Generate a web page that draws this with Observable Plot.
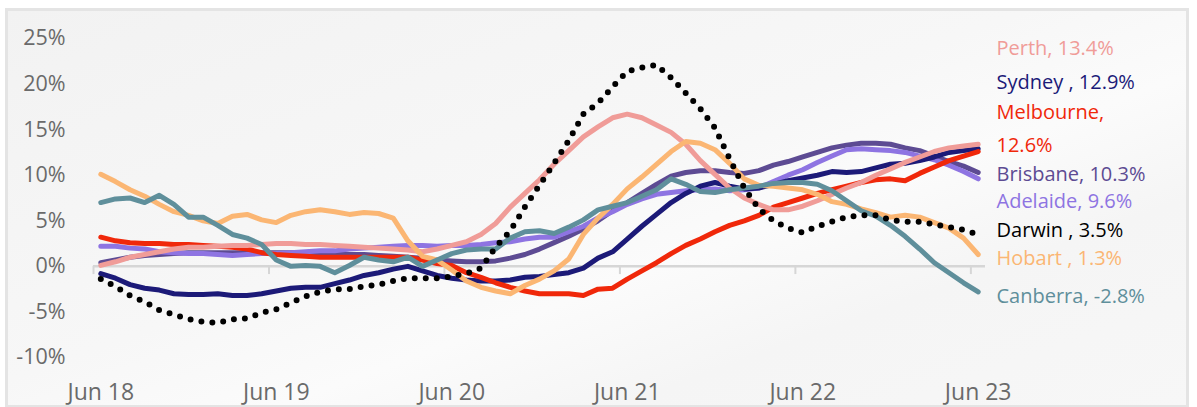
<!DOCTYPE html>
<html>
<head>
<meta charset="utf-8">
<script src="https://cdn.jsdelivr.net/npm/d3@7"></script>
<script src="https://cdn.jsdelivr.net/npm/@observablehq/plot@0.6"></script>
<style>
  html, body { margin: 0; padding: 0; background: #ffffff; }
  #wrap { position: relative; width: 1197px; height: 407px; overflow: hidden; }
  #frame { position: absolute; left: 5px; top: 8px; width: 1184px; height: 400px;
    border: 3px solid #e4e4e4; box-sizing: border-box;
    background: linear-gradient(160deg, #f2f2f2 0%, #f7f7f7 45%, #fbfbfb 60%, #f5f5f5 75%, #f7f7f7 100%); }
  #chart { position: absolute; left: 0; top: 0; }
  svg { font-family: "Open Sans", sans-serif; }
</style>
</head>
<body>
<div id="wrap"><div id="frame"></div><div id="chart"></div></div>
<script>
// Month index 0 = Jun 2018 ... 60 = Jun 2023
const xTickLabels = ["Jun 18", "Jun 19", "Jun 20", "Jun 21", "Jun 22", "Jun 23"];
const yTicks = [-10, -5, 0, 5, 10, 15, 20, 25];

const seriesNames = ["Brisbane", "Adelaide", "Sydney", "Melbourne", "Perth", "Hobart", "Canberra", "Darwin"];
const seriesColors = ["#5d4b93", "#8e74e2", "#1c1a78", "#f0280a", "#f09c98", "#fbb673", "#5f8f9b", "#000000"];

const brisbane = [0.4,0.7,1.0,1.2,1.3,1.4,1.5,1.5,1.5,1.5,1.5,1.5,1.5,1.5,1.5,1.4,1.4,1.3,1.3,1.2,1.1,1.0,0.9,0.7,0.6,0.5,0.5,0.6,0.9,1.3,1.9,2.6,3.3,4.1,5.0,6.1,7.0,8.0,9.0,9.9,10.3,10.5,10.5,10.3,10.2,10.5,11.1,11.5,12.0,12.5,13.0,13.3,13.5,13.5,13.4,13.0,12.7,12.1,11.5,11.0,10.3];
const adelaide = [2.2,2.2,2.0,1.9,1.6,1.5,1.4,1.4,1.3,1.2,1.3,1.4,1.4,1.5,1.6,1.7,1.7,1.9,2.0,2.1,2.2,2.3,2.3,2.2,2.3,2.3,2.4,2.6,2.7,3.0,3.2,3.2,3.8,4.4,5.3,6.0,6.8,7.4,7.9,8.1,8.3,8.4,8.5,8.3,8.4,8.6,9.3,10.0,10.6,11.4,12.1,12.8,12.9,12.8,12.7,12.5,12.1,11.7,11.1,10.4,9.6];
const sydney = [-0.8,-1.3,-2.0,-2.4,-2.6,-3.0,-3.1,-3.1,-3.0,-3.2,-3.2,-3.0,-2.7,-2.4,-2.3,-2.3,-1.9,-1.5,-1.0,-0.7,-0.3,0.0,-0.5,-1.0,-1.3,-1.5,-1.6,-1.6,-1.5,-1.2,-1.1,-0.9,-0.7,-0.2,0.9,1.6,3.0,4.4,5.7,7.0,8.0,8.8,9.2,8.8,8.5,8.6,9.0,9.4,9.7,10.0,10.4,10.3,10.4,10.8,11.2,11.3,11.6,12.0,12.5,12.7,12.9];
const melbourne = [3.2,2.8,2.6,2.5,2.5,2.4,2.4,2.3,2.2,2.1,1.9,1.5,1.3,1.2,1.1,1.0,1.0,1.0,1.0,1.0,1.0,1.0,0.7,0.3,0.1,-0.7,-1.2,-1.8,-2.3,-2.7,-3.0,-3.0,-3.0,-3.2,-2.5,-2.4,-1.4,-0.5,0.4,1.4,2.3,3.0,3.8,4.5,5.0,5.6,6.5,7.0,7.5,8.0,8.4,8.8,9.2,9.5,9.6,9.4,10.2,10.9,11.6,12.1,12.6];
const perth = [0.1,0.5,1.0,1.3,1.6,1.9,2.1,2.1,2.2,2.3,2.3,2.4,2.5,2.5,2.4,2.4,2.3,2.2,2.1,2.0,1.9,1.8,1.6,1.9,2.3,2.7,3.5,4.7,6.5,8.0,9.5,11.2,12.7,14.2,15.3,16.3,16.7,16.3,15.5,14.7,13.4,11.6,10.1,8.6,7.5,6.8,6.2,6.2,6.6,7.2,7.9,8.6,9.2,10.0,10.7,11.4,12.0,12.6,13.0,13.2,13.4];
const hobart = [10.1,9.3,8.4,7.7,6.8,6.0,5.6,5.0,4.7,5.5,5.7,5.1,4.8,5.6,6.0,6.2,6.0,5.7,5.9,5.8,5.3,2.8,1.1,0.7,-0.4,-1.6,-2.3,-2.7,-3.0,-2.1,-1.4,-0.5,0.8,3.5,5.3,6.8,8.5,9.8,11.2,12.6,13.7,13.5,12.8,11.3,9.6,8.9,8.8,8.6,8.4,7.9,7.1,6.8,6.3,5.9,5.4,5.6,5.4,4.8,4.2,3.1,1.3];
const canberra = [7.0,7.4,7.5,7.0,7.8,6.8,5.4,5.4,4.5,3.5,3.1,2.4,0.7,0.0,0.1,0.0,-0.7,0.1,1.0,0.7,0.5,1.0,0.0,0.7,1.4,1.8,1.9,1.9,3.1,3.8,3.9,3.6,4.3,5.1,6.2,6.6,7.0,7.7,8.4,9.6,9.0,8.2,8.1,8.4,8.6,8.8,9.1,9.2,9.2,9.0,8.3,7.2,6.1,5.5,4.5,3.3,1.9,0.4,-0.7,-1.8,-2.8];
const darwin = [-1.4,-2.2,-3.2,-3.9,-4.8,-5.3,-5.8,-6.1,-6.2,-5.8,-5.7,-5.1,-4.7,-4.0,-3.3,-2.8,-2.5,-2.5,-2.2,-2.0,-1.6,-1.3,-1.3,-1.3,-1.1,-0.8,-0.2,2.1,3.9,6.5,8.9,11.3,13.8,16.7,17.9,19.7,21.4,21.8,22.1,20.7,19.0,17.3,15.2,11.8,8.6,6.3,5.0,4.2,3.7,4.4,4.9,5.4,5.6,5.6,5.1,4.9,4.9,4.6,4.3,4.0,3.5];

// End labels (text, colour, vertical position in % units)
const labelTexts = ["Perth, 13.4%", "Sydney , 12.9%", "Melbourne,", "12.6%", "Brisbane, 10.3%", "Adelaide, 9.6%", "Darwin , 3.5%", "Hobart , 1.3%", "Canberra, -2.8%"];
const labelColors = ["#f09c98", "#1c1a78", "#f0280a", "#f0280a", "#5d4b93", "#8e74e2", "#000000", "#fbb673", "#5f8f9b"];
const labelY = [23.9, 20.2, 16.9, 13.3, 10.1, 7.1, 3.9, 0.8, -3.3];

const valuesBySeries = [brisbane, adelaide, sydney, melbourne, perth, hobart, canberra, darwin];
const rows = [];
seriesNames.forEach((name, s) => {
  valuesBySeries[s].forEach((v, i) => rows.push({series: name, month: i, value: v}));
});
const solid = rows.filter(d => d.series !== "Darwin");
const dotted = rows.filter(d => d.series === "Darwin");
const labels = labelTexts.map((t, i) => ({text: t, color: labelColors[i], y: labelY[i]}));
const xTickPos = xTickLabels.map((_, k) => k * 12);
const boundaryTicks = xTickLabels.map((_, k) => k * 12 - 0.5);

const chart = Plot.plot({
  width: 1197,
  height: 407,
  marginLeft: 93,
  marginRight: 212,
  marginTop: 38,
  marginBottom: 50,
  style: {background: "transparent", fontFamily: "'Open Sans', sans-serif"},
  x: {domain: [-0.5, 60.5], axis: null},
  y: {domain: [-10, 25], axis: null},
  color: {domain: seriesNames, range: seriesColors},
  marks: [
    Plot.ruleY([0], {x1: -0.5, x2: 60.5, stroke: "#d6d6d6", strokeWidth: 2.5}),
    Plot.ruleX(boundaryTicks, {x: d => d, y1: 0, y2: -0.9, stroke: "#d6d6d6", strokeWidth: 2}),
    Plot.axisY(yTicks, {tickSize: 0, tickPadding: 28, tickFormat: d => `${d}%`, fontSize: 21.5, fill: "#6a6a6a", label: null}),
    Plot.axisX(xTickPos, {tickSize: 0, tickPadding: 26, tickFormat: (d, i) => xTickLabels[i], fontSize: 23, fill: "#6a6a6a", label: null}),
    Plot.line(solid, {x: "month", y: "value", z: "series", stroke: "series", strokeWidth: 5, curve: "linear", strokeLinejoin: "round"}),
    Plot.line(dotted, {x: "month", y: "value", stroke: "#000", strokeWidth: 6, strokeDasharray: "0,11", strokeLinecap: "round"}),
    Plot.text(labels, {x: 60.5, y: "y", text: "text", fill: "color", dx: 11, textAnchor: "start", fontSize: 20})
  ]
});
document.getElementById("chart").appendChild(chart);
</script>
</body>
</html>
